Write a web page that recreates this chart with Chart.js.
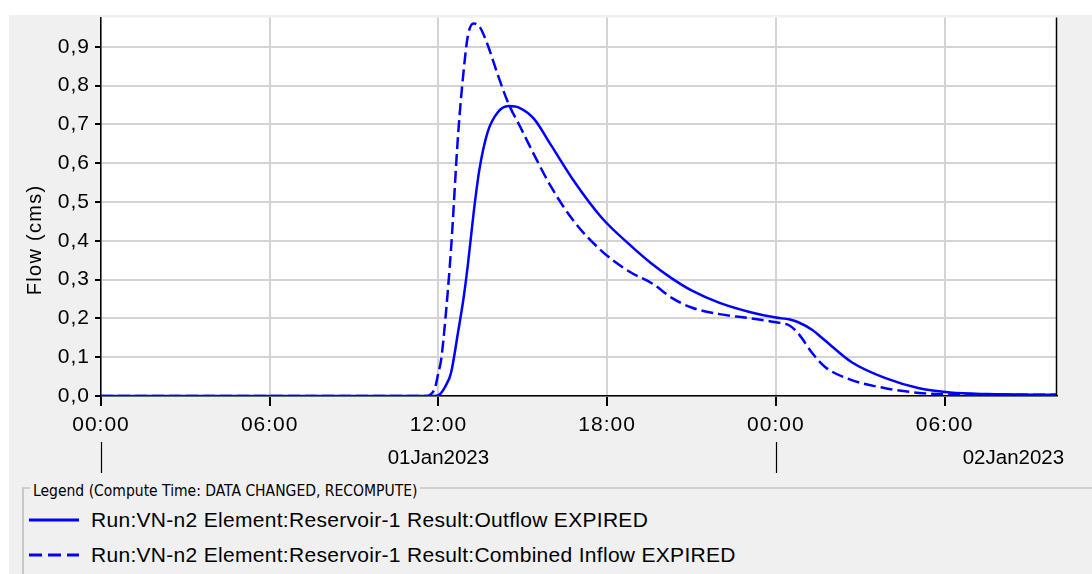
<!DOCTYPE html>
<html lang="en">
<head>
    <meta charset="UTF-8">
    <title>Reservoir-1 Flow</title>
    <script src="https://cdn.jsdelivr.net/npm/chart.js"></script>
    <style>
        body {
            margin: 0;
            background: #ffffff;
            font-family: Arial, "Liberation Sans", sans-serif;
            overflow: hidden;
        }
        .panel {
            position: absolute;
            left: 9px;
            top: 15px;
            width: 1083px;
            height: 559px;
            background: #f0f0f0;
        }
        #flowChart {
            position: absolute;
            left: 0;
            top: 0;
        }
        .legend-box {
            position: absolute;
            left: 22px;
            top: 487px;
            width: 1100px;
            height: 120px;
            border-top: 2px solid #d0d0d0;
            border-left: 2px solid #c8c8c8;
        }
        .legend-title {
            position: absolute;
            left: 30px;
            top: 482px;
            padding: 0 3px;
            background: #f0f0f0;
            font-family: "DejaVu Sans Condensed", "DejaVu Sans", sans-serif;
            font-size: 15.5px;
            line-height: 18px;
            color: #000;
            white-space: nowrap;
        }
        .legend-item {
            position: absolute;
            left: 29px;
            height: 24px;
            display: flex;
            align-items: center;
            font-size: 21px;
            letter-spacing: 0.3px;
            color: #000;
            white-space: nowrap;
        }
        .legend-item svg {
            margin-right: 12px;
        }
    </style>
</head>
<body>
    <div class="panel"></div>
    <canvas id="flowChart" width="1092" height="480"></canvas>
    <div class="legend-box"></div>
    <div class="legend-title">Legend (Compute Time: DATA CHANGED, RECOMPUTE)</div>
    <div id="legend"></div>

    <script>
        // time in hours from 01Jan2023 00:00
        const hours = [0, 6, 11.5, 11.85, 12.0, 12.1, 12.25, 12.45, 12.7, 12.9, 13.05, 13.25, 13.45,
            13.75, 14.1, 14.5, 14.9, 15.4, 16.0, 16.8, 17.8, 18.8, 19.6, 20.3, 21.0, 22.0, 23.1,
            24.0, 24.5, 24.8, 25.3, 25.75, 26.7, 27.9, 29.1, 30.2, 31.5, 34];

        // Outflow (cms)
        const outflow = [0, 0, 0, 0, 0.002, 0.008, 0.025, 0.06, 0.165, 0.255, 0.34, 0.47, 0.58,
            0.68, 0.73, 0.747, 0.742, 0.714, 0.647, 0.556, 0.46, 0.39, 0.34, 0.303, 0.272, 0.24, 0.216,
            0.202, 0.197, 0.19, 0.17, 0.143, 0.087, 0.046, 0.02, 0.009, 0.005, 0.003];

        // Combined Inflow (cms)
        const inflow = [0, 0, 0, 0.015, 0.06, 0.095, 0.2, 0.38, 0.673, 0.84, 0.929, 0.96, 0.953,
            0.905, 0.83, 0.752, 0.695, 0.622, 0.54, 0.452, 0.374, 0.32, 0.29, 0.253, 0.228, 0.211, 0.2,
            0.19, 0.181, 0.161, 0.11, 0.075, 0.041, 0.02, 0.008, 0.004, 0.003, 0.003];

        const seriesNames = [
            "Run:VN-n2 Element:Reservoir-1 Result:Outflow EXPIRED",
            "Run:VN-n2 Element:Reservoir-1 Result:Combined Inflow EXPIRED"
        ];

        const yTitle = "Flow (cms)";
        const dayLabels = ["01Jan2023", "02Jan2023"];
        const dayLabelHours = [12, 32.45];
        const daySeparators = [0, 24];

        const seriesColor = "#0000ff";
        const dashes = [[], [12, 5]];

        function pad(n) {
            return (n < 10 ? "0" : "") + n;
        }

        const extrasPlugin = {
            id: "extras",
            beforeDraw(chart) {
                const { ctx, chartArea: a } = chart;
                ctx.letterSpacing = "1px";
                ctx.save();
                ctx.fillStyle = "#ffffff";
                ctx.fillRect(a.left, a.top, a.right - a.left, a.bottom - a.top);
                ctx.restore();
            },
            afterDraw(chart) {
                const { ctx, chartArea: a, scales } = chart;
                const x = scales.x;
                ctx.save();
                ctx.strokeStyle = "#000";
                ctx.lineWidth = 1.5;
                ctx.beginPath();
                ctx.moveTo(a.right - 0.5, a.top);
                ctx.lineTo(a.right - 0.5, a.bottom);
                ctx.stroke();

                // day separators and labels
                ctx.lineWidth = 1.2;
                daySeparators.forEach(h => {
                    const px = Math.round(x.getPixelForValue(h)) + 0.5;
                    ctx.beginPath();
                    ctx.moveTo(px, a.bottom + 46);
                    ctx.lineTo(px, a.bottom + 77);
                    ctx.stroke();
                });
                ctx.fillStyle = "#000";
                ctx.letterSpacing = "0px";
                ctx.font = "20.5px Arial, 'Liberation Sans'";
                ctx.textAlign = "center";
                ctx.textBaseline = "middle";
                dayLabels.forEach((t, i) => {
                    ctx.fillText(t, x.getPixelForValue(dayLabelHours[i]), a.bottom + 62);
                });

                // y axis title
                ctx.translate(41, (a.top + a.bottom) / 2 + 33);
                ctx.rotate(-Math.PI / 2);
                ctx.letterSpacing = "1.3px";
                ctx.font = "20px Arial, 'Liberation Sans'";
                ctx.textBaseline = "alphabetic";
                ctx.fillText(yTitle, 0, 0);
                ctx.restore();
            }
        };

        const ctx = document.getElementById("flowChart").getContext("2d");
        new Chart(ctx, {
            type: "line",
            data: {
                datasets: [outflow, inflow].map((vals, i) => ({
                    label: seriesNames[i],
                    data: hours.map((h, j) => ({ x: h, y: vals[j] })),
                    borderColor: seriesColor,
                    borderWidth: 2.5,
                    borderDash: dashes[i],
                    pointRadius: 0,
                    fill: false,
                    cubicInterpolationMode: "monotone"
                }))
            },
            options: {
                responsive: false,
                animation: false,
                devicePixelRatio: 1,
                layout: { padding: { left: 9, top: 15, right: 35, bottom: 0 } },
                plugins: {
                    legend: { display: false },
                    tooltip: { enabled: false }
                },
                scales: {
                    x: {
                        type: "linear",
                        min: 0,
                        max: 34,
                        afterFit: s => { s.height = 84; },
                        border: { color: "#000", width: 1.5 },
                        grid: { color: "#d4d4d4", lineWidth: 2, tickLength: 10, tickColor: "#000" },
                        ticks: {
                            stepSize: 6,
                            includeBounds: false,
                            maxRotation: 0,
                            autoSkip: false,
                            padding: 7,
                            color: "#000",
                            font: { family: "Arial, 'Liberation Sans'", size: 21 },
                            callback: v => pad(v % 24) + ":00"
                        }
                    },
                    y: {
                        min: 0,
                        max: 0.975,
                        afterFit: s => { s.width = 92; },
                        border: { color: "#000", width: 1.5 },
                        grid: { color: "#d4d4d4", lineWidth: 2, tickLength: 6, tickColor: "#000" },
                        ticks: {
                            stepSize: 0.1,
                            includeBounds: false,
                            padding: 5,
                            color: "#000",
                            font: { family: "Arial, 'Liberation Sans'", size: 21 },
                            callback: v => v.toFixed(1).replace(".", ",")
                        }
                    }
                }
            },
            plugins: [extrasPlugin]
        });

        // legend entries
        const legendEl = document.getElementById("legend");
        const legendTops = [508, 543];
        seriesNames.forEach((name, i) => {
            const item = document.createElement("div");
            item.className = "legend-item";
            item.style.top = legendTops[i] + "px";
            const dash = dashes[i].length ? ' stroke-dasharray="13 6"' : "";
            item.innerHTML = '<svg width="50" height="6"><line x1="0" y1="3" x2="50" y2="3" stroke="' +
                seriesColor + '" stroke-width="3"' + dash + '/></svg><span>' + name + '</span>';
            legendEl.appendChild(item);
        });
    </script>
</body>
</html>
